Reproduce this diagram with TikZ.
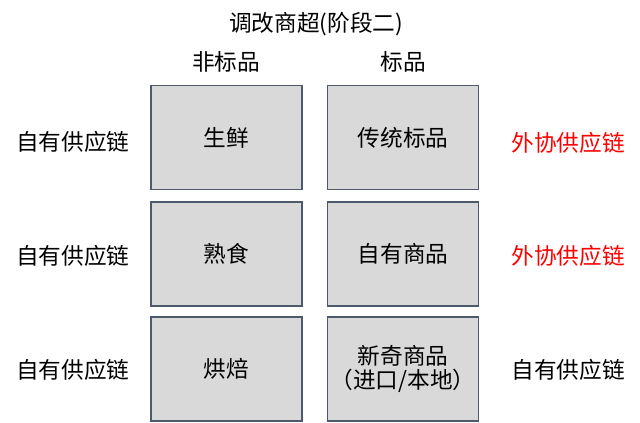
\documentclass[tikz,border=0pt]{standalone}
\usepackage{fontspec}
\setmainfont{Noto Sans CJK SC}
\usepackage{xcolor}
\usetikzlibrary{positioning}

\begin{document}
\begin{tikzpicture}[x=0.75pt, y=-0.75pt]
    % Colors
    \definecolor{cbox}{HTML}{D9D9D9}
    \definecolor{cborder}{HTML}{4E5A6C}
    \definecolor{cred}{HTML}{FF0000}

    \tikzset{
        catbox/.style={draw=cborder, line width=1.1pt, fill=cbox, minimum width=151*0.75pt,
            minimum height=104*0.75pt, inner sep=0pt, align=center, font=\fontsize{17}{17.5}\selectfont},
        sidelabel/.style={font=\fontsize{17}{20}\selectfont, inner sep=0pt},
        headlabel/.style={font=\fontsize{17}{20}\selectfont, inner sep=0pt}
    }

    \useasboundingbox (0,0) rectangle (640,422);

    % Title and column heads
    \node[headlabel] (title) at (316,24) {调改商超(阶段二)};
    \node[headlabel] (headA) at (226,62) {非标品};
    \node[headlabel] (headB) at (403,62) {标品};

    % Boxes: non-standard column
    \node[catbox] (fresh) at (226.5,137.5) {生鲜};
    \node[catbox] (deli) at (226.5,254) {熟食};
    \node[catbox] (bake) at (226.5,369) {烘焙};

    % Boxes: standard column
    \node[catbox] (std) at (403,137.5) {传统标品};
    \node[catbox] (own) at (403,254) {自有商品};
    \node[catbox] (novel) at (403,369) {新奇商品\\（进口/本地）};

    % Left supply chain labels
    \node[sidelabel] (leftA) at (73,142) {自有供应链};
    \node[sidelabel] (leftB) at (73,256) {自有供应链};
    \node[sidelabel] (leftC) at (73,370) {自有供应链};

    % Right supply chain labels
    \node[sidelabel, text=cred] (rightA) at (568,143) {外协供应链};
    \node[sidelabel, text=cred] (rightB) at (568,256) {外协供应链};
    \node[sidelabel] (rightC) at (568,370) {自有供应链};
\end{tikzpicture}
\end{document}
